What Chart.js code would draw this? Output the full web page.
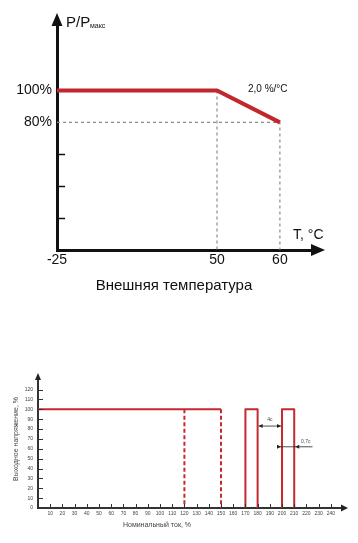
<!DOCTYPE html>
<html>
<head>
<meta charset="utf-8">
<script src="https://cdn.jsdelivr.net/npm/chart.js@4.4.1/dist/chart.umd.min.js"></script>
<style>
body { margin: 0; background: #fff; }
canvas { position: absolute; left: 0; }
#derating { top: 0; }
#overload { top: 360px; }
</style>
</head>
<body>
<canvas id="derating" width="358" height="300"></canvas>
<canvas id="overload" width="358" height="183"></canvas>
<script>
// derating curve
var tempTicks = [-25, 50, 60];
var powerTemp = [-25, 50, 60];
var powerValue = [100, 100, 80];
var powerTicks = [20, 40, 60, 80, 100];
var powerTickLabels = ['', '', '', '80%', '100%'];
var guide80Temp = [-25, 60, 60];
var guide80Value = [80, 80, 0];
var guide50Temp = [50, 50];
var guide50Value = [100, 0];

// overload protection
var currentTicks = [10, 20, 30, 40, 50, 60, 70, 80, 90, 100, 110, 120, 130, 140, 150, 160, 170, 180, 190, 200, 210, 220, 230, 240];
var voltageTicks = [0, 10, 20, 30, 40, 50, 60, 70, 80, 90, 100, 110, 120];
var limitCurrent = [0, 150];
var limitVoltage = [100, 100];
var drop1Current = [120, 120];
var drop2Current = [150, 150];
var dropVoltage = [100, 0];
var pulse1Current = [170, 170, 180, 180];
var pulse2Current = [200, 200, 210, 210];
var pulseVoltage = [0, 100, 100, 0];

var FONT = "'Liberation Sans', Arial, sans-serif";
Chart.defaults.font.family = FONT;

function pts(xs, ys) {
	return xs.map(function (x, i) { return { x: x, y: ys[i] }; });
}

// x axis of the derating chart is not to scale: -25..50 and 50..60 get their own stretch
var xStopFrac = [0, 0.613, 0.854];
class BrokenScale extends Chart.LinearScale {
	getPixelForValue(value) {
		var i = value <= tempTicks[1] ? 0 : 1;
		var f = xStopFrac[i] + (value - tempTicks[i]) / (tempTicks[i + 1] - tempTicks[i]) * (xStopFrac[i + 1] - xStopFrac[i]);
		return this.getPixelForDecimal(f);
	}
	getValueForPixel(pixel) {
		var f = this.getDecimalForPixel(pixel);
		var i = f <= xStopFrac[1] ? 0 : 1;
		return tempTicks[i] + (f - xStopFrac[i]) / (xStopFrac[i + 1] - xStopFrac[i]) * (tempTicks[i + 1] - tempTicks[i]);
	}
}
BrokenScale.id = 'broken';
BrokenScale.defaults = Chart.LinearScale.defaults;
Chart.register(BrokenScale);

function arrowHead(ctx, x, y, dir, len, half) {
	ctx.beginPath();
	ctx.moveTo(x, y);
	if (dir === 'up') { ctx.lineTo(x - half, y + len); ctx.lineTo(x + half, y + len); }
	if (dir === 'right') { ctx.lineTo(x - len, y - half); ctx.lineTo(x - len, y + half); }
	if (dir === 'left') { ctx.lineTo(x + len, y - half); ctx.lineTo(x + len, y + half); }
	ctx.closePath();
	ctx.fill();
}

var deratingDecor = {
	id: 'deratingDecor',
	afterDraw: function (chart) {
		var ctx = chart.ctx, a = chart.chartArea, ys = chart.scales.y, xs = chart.scales.x;
		ctx.save();
		ctx.fillStyle = '#111';
		ctx.strokeStyle = '#111';
		arrowHead(ctx, a.left, a.top - 7, 'up', 13, 5.5);
		arrowHead(ctx, a.right + 7, a.bottom, 'right', 14, 6);
		ctx.lineWidth = 1.5;
		powerTicks.forEach(function (v, i) {
			if (powerTickLabels[i]) return;
			var y = Math.round(ys.getPixelForValue(v)) + 0.5;
			ctx.beginPath();
			ctx.moveTo(a.left, y);
			ctx.lineTo(a.left + 8, y);
			ctx.stroke();
		});
		ctx.textBaseline = 'alphabetic';
		ctx.textAlign = 'left';
		ctx.font = '15px ' + FONT;
		ctx.fillText('P/P', 66, 27);
		ctx.font = '7px ' + FONT;
		ctx.fillText('макс', 90, 28);
		ctx.font = '14px ' + FONT;
		ctx.fillText('T, °C', 293, 239);
		ctx.font = '10px ' + FONT;
		ctx.fillText('2,0 %/°C', 248, 92);
		ctx.textAlign = 'center';
		ctx.font = '15px ' + FONT;
		ctx.fillText('Внешняя температура', 174, 290);
		ctx.restore();
	}
};

new Chart(document.getElementById('derating').getContext('2d'), {
	type: 'line',
	data: {
		datasets: [{
			data: pts(powerTemp, powerValue),
			borderColor: '#c1272d',
			borderWidth: 4,
			borderJoinStyle: 'miter',
			pointRadius: 0
		}, {
			data: pts(guide80Temp, guide80Value),
			borderColor: '#8a8a8a',
			borderWidth: 1.2,
			borderDash: [3, 3],
			pointRadius: 0
		}, {
			data: pts(guide50Temp, guide50Value),
			borderColor: '#8a8a8a',
			borderWidth: 1.2,
			borderDash: [3, 3],
			pointRadius: 0
		}]
	},
	options: {
		responsive: false,
		animation: false,
		layout: { padding: { top: 20, right: 40, left: 0, bottom: 0 } },
		plugins: { legend: { display: false }, tooltip: { enabled: false } },
		scales: {
			x: {
				type: 'broken',
				min: -25,
				max: 67,
				afterFit: function (s) { s.height = 50; },
				afterBuildTicks: function (s) { s.ticks = tempTicks.map(function (v) { return { value: v }; }); },
				grid: { display: true, drawOnChartArea: false, drawTicks: false },
				border: { display: true, color: '#111', width: 3 },
				ticks: { autoSkip: false, maxRotation: 0, padding: 2, color: '#111', font: { size: 14 }, callback: function (v) { return String(v); } }
			},
			y: {
				min: 0,
				max: 144.2,
				afterFit: function (s) { s.width = 57; },
				afterBuildTicks: function (s) { s.ticks = powerTicks.map(function (v) { return { value: v }; }); },
				grid: { display: true, drawOnChartArea: false, drawTicks: false },
				border: { display: true, color: '#111', width: 3 },
				ticks: { autoSkip: false, padding: 5, color: '#111', font: { size: 14 }, callback: function (v, i) { return powerTickLabels[i]; } }
			}
		}
	},
	plugins: [deratingDecor]
});

var overloadDecor = {
	id: 'overloadDecor',
	afterDraw: function (chart) {
		var ctx = chart.ctx, a = chart.chartArea, xs = chart.scales.x, ys = chart.scales.y;
		ctx.save();
		ctx.fillStyle = '#222';
		ctx.strokeStyle = '#333';
		arrowHead(ctx, a.left, a.top - 4, 'up', 7, 3);
		arrowHead(ctx, a.right + 4, a.bottom, 'right', 7, 3.5);
		ctx.lineWidth = 1;
		currentTicks.forEach(function (v) {
			var x = Math.round(xs.getPixelForValue(v)) + 0.5;
			ctx.beginPath();
			ctx.moveTo(x, a.bottom);
			ctx.lineTo(x, a.bottom - 4);
			ctx.stroke();
		});
		voltageTicks.forEach(function (v) {
			if (v === 0) return;
			var y = Math.round(ys.getPixelForValue(v)) + 0.5;
			ctx.beginPath();
			ctx.moveTo(a.left, y);
			ctx.lineTo(a.left + 5, y);
			ctx.stroke();
		});
		// dimension arrows between pulses
		ctx.strokeStyle = '#222';
		ctx.lineWidth = 0.8;
		var y1 = ys.getPixelForValue(83);
		var xa = xs.getPixelForValue(180) + 1, xb = xs.getPixelForValue(200) - 1;
		ctx.beginPath(); ctx.moveTo(xa, y1); ctx.lineTo(xb, y1); ctx.stroke();
		arrowHead(ctx, xa, y1, 'left', 4, 2);
		arrowHead(ctx, xb, y1, 'right', 4, 2);
		var y2 = ys.getPixelForValue(62);
		var xc = xs.getPixelForValue(200) - 1, xd = xs.getPixelForValue(210) + 1;
		ctx.beginPath(); ctx.moveTo(xs.getPixelForValue(196), y2); ctx.lineTo(xs.getPixelForValue(225), y2); ctx.stroke();
		arrowHead(ctx, xc, y2, 'right', 4, 2);
		arrowHead(ctx, xd, y2, 'left', 4, 2);
		ctx.fillStyle = '#444';
		ctx.font = '5px ' + FONT;
		ctx.textAlign = 'center';
		ctx.textBaseline = 'middle';
		ctx.fillText('4c', xs.getPixelForValue(190), ys.getPixelForValue(90));
		ctx.fillText('0,7c', xs.getPixelForValue(219.5), ys.getPixelForValue(67));
		ctx.font = '7px ' + FONT;
		ctx.fillText('Номинальный ток, %', 157, 165);
		ctx.translate(16, 79);
		ctx.rotate(-Math.PI / 2);
		ctx.fillText('Выходное напряжение, %', 0, 0);
		ctx.restore();
	}
};

var red = '#c42a30';
new Chart(document.getElementById('overload').getContext('2d'), {
	type: 'line',
	data: {
		datasets: [{
			data: pts(limitCurrent, limitVoltage),
			borderColor: red, borderWidth: 2, pointRadius: 0
		}, {
			data: pts(drop1Current, dropVoltage),
			borderColor: red, borderWidth: 2, borderDash: [4, 2.5], pointRadius: 0
		}, {
			data: pts(drop2Current, dropVoltage),
			borderColor: red, borderWidth: 2, borderDash: [4, 2.5], pointRadius: 0
		}, {
			data: pts(pulse1Current, pulseVoltage),
			borderColor: red, borderWidth: 2, borderJoinStyle: 'round', pointRadius: 0
		}, {
			data: pts(pulse2Current, pulseVoltage),
			borderColor: red, borderWidth: 2, borderJoinStyle: 'round', pointRadius: 0
		}]
	},
	options: {
		responsive: false,
		animation: false,
		layout: { padding: { top: 17, right: 14, left: 0, bottom: 0 } },
		plugins: { legend: { display: false }, tooltip: { enabled: false } },
		scales: {
			x: {
				type: 'linear',
				min: 0,
				max: 250.8,
				afterFit: function (s) { s.height = 35; },
				afterBuildTicks: function (s) { s.ticks = currentTicks.map(function (v) { return { value: v }; }); },
				grid: { display: true, drawOnChartArea: false, drawTicks: false },
				border: { display: true, color: '#333', width: 2 },
				ticks: { autoSkip: false, maxRotation: 0, padding: 2.5, color: '#444', font: { size: 5 } }
			},
			y: {
				min: 0,
				max: 132.7,
				afterFit: function (s) { s.width = 38; },
				afterBuildTicks: function (s) { s.ticks = voltageTicks.map(function (v) { return { value: v }; }); },
				grid: { display: true, drawOnChartArea: false, drawTicks: false },
				border: { display: true, color: '#333', width: 2 },
				ticks: { autoSkip: false, padding: 5, color: '#444', font: { size: 5 } }
			}
		}
	},
	plugins: [overloadDecor]
});
</script>
</body>
</html>
